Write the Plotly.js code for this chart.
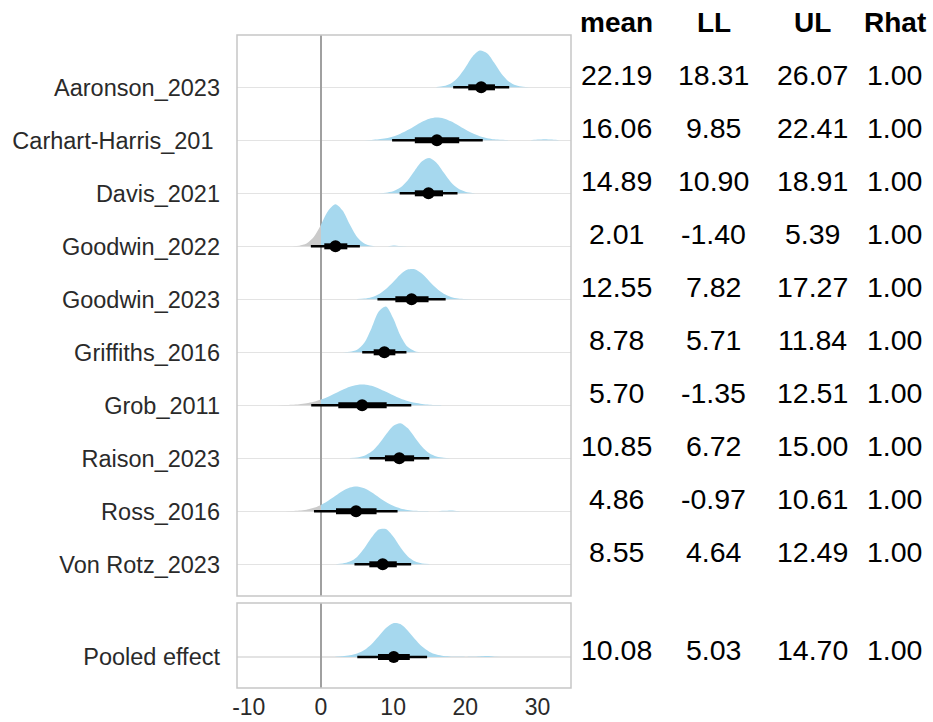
<!DOCTYPE html>
<html>
<head>
<meta charset="utf-8">
<script src="https://cdn.plot.ly/plotly-3.0.1.min.js"></script>
<style>
  html, body { margin: 0; padding: 0; background: #ffffff; }
  #chart { width: 933px; height: 722px; }
</style>
</head>
<body>
<div id="chart"></div>
<script>
// Study labels, top to bottom
const studies = [
  'Aaronson_2023', 'Carhart-Harris_201\u00a0', 'Davis_2021', 'Goodwin_2022', 'Goodwin_2023',
  'Griffiths_2016', 'Grob_2011', 'Raison_2023', 'Ross_2016', 'Von Rotz_2023'
];
// Posterior summaries per study
const meanVals = [22.19, 16.06, 14.89, 2.01, 12.55, 8.78, 5.70, 10.85, 4.86, 8.55];
const llVals   = [18.31, 9.85, 10.90, -1.40, 7.82, 5.71, -1.35, 6.72, -0.97, 4.64];
const ulVals   = [26.07, 22.41, 18.91, 5.39, 17.27, 11.84, 12.51, 15.00, 10.61, 12.49];
const rhatVals = [1.00, 1.00, 1.00, 1.00, 1.00, 1.00, 1.00, 1.00, 1.00, 1.00];
// 66% interval (thick bar)
const inner66Lo = [20.4, 13.0, 13.0, 0.46, 10.3, 7.3, 2.4, 8.86, 2.08, 6.7];
const inner66Hi = [24.1, 19.15, 16.9, 3.65, 14.9, 10.3, 9.1, 12.9, 7.7, 10.5];

// Posterior densities, sampled at unit steps from densStart
const densStart = [16, 6, 8, -4, 5, 3, -6, 4, -5, 2];
const densVals = [
  [0.0015, 0.0065, 0.021, 0.055, 0.109, 0.169, 0.201, 0.186, 0.134, 0.074, 0.032, 0.011, 0.003, 0.0005],
  [0.0009, 0.0023, 0.0052, 0.0109, 0.0209, 0.0359, 0.0558, 0.0789, 0.1018, 0.1184, 0.125, 0.1198, 0.1038,
   0.0819, 0.0586, 0.0381, 0.0221, 0.0119, 0.0058, 0.0025, 0.001, 0.0005, 0.0003, 0.0006, 0.004, 0.006,
   0.004, 0.0005, 0],
  [0.0006, 0.003, 0.0108, 0.0313, 0.0704, 0.1253, 0.1752, 0.1928, 0.1668, 0.1135, 0.0606, 0.0257, 0.0085,
   0.0021, 0.0004],
  [0.0006, 0.0034, 0.0156, 0.0506, 0.1173, 0.1943, 0.23, 0.1955, 0.1187, 0.0515, 0.0159, 0.0036, 0.0006,
   0.0002, 0.005, 0.001, 0],
  [0.0013, 0.0041, 0.0119, 0.028, 0.0566, 0.0952, 0.1361, 0.1627, 0.164, 0.1394, 0.0994, 0.0601, 0.0302,
   0.013, 0.0047, 0.0014, 0.0004],
  [0.0003, 0.0024, 0.0135, 0.0519, 0.132, 0.2231, 0.2505, 0.1867, 0.0923, 0.0301, 0.0064, 0.0009, 0.0001],
  [0.0005, 0.0012, 0.0027, 0.0055, 0.0106, 0.0191, 0.0312, 0.0471, 0.0657, 0.0854, 0.1016, 0.1117, 0.1136,
   0.1065, 0.0923, 0.074, 0.0548, 0.037, 0.0233, 0.0136, 0.0074, 0.0036, 0.0017, 0.0007, 0.0003],
  [0.001, 0.0041, 0.0136, 0.0367, 0.0772, 0.1304, 0.1772, 0.1916, 0.1651, 0.1142, 0.0632, 0.0276, 0.0098,
   0.0028, 0.0006],
  [0.0005, 0.0015, 0.004, 0.009, 0.0188, 0.0348, 0.0577, 0.085, 0.1115, 0.1303, 0.1359, 0.1261, 0.1042,
   0.0775, 0.051, 0.0299, 0.0156, 0.0072, 0.003, 0.0011, 0.0004, 0.0003, 0.003, 0.005, 0.002, 0],
  [0.0009, 0.0042, 0.0147, 0.0406, 0.0873, 0.1461, 0.1905, 0.1929, 0.1517, 0.0929, 0.0444, 0.0164, 0.0049,
   0.0011]
];

// Pooled effect
const pooledLabel = 'Pooled effect';
const pooledMean = 10.08;
const pooledLL = 5.03;
const pooledUL = 14.70;
const pooledRhat = 1.00;
const pooled66Lo = 7.9;
const pooled66Hi = 12.3;
const pooledDensStart = 2;
const pooledDens = [0.002, 0.004, 0.009, 0.019, 0.038, 0.07, 0.113, 0.158, 0.185, 0.18, 0.145, 0.098, 0.057,
  0.029, 0.013, 0.005, 0.002, 0.0008, 0.0005, 0.0008, 0.003, 0.005, 0.001, 0];

const tableHeaders = ['mean', 'LL', 'UL', 'Rhat'];
const xTicks = [-10, 0, 10, 20, 30];

// ---- drawing ----
const DENS_SCALE = 3.45;          // rows per unit of density
const BLUE = '#a6d8ee';
const GREY = '#cbcbcb';
const nRows = studies.length;
const rowOf = i => nRows - i;     // first study on top

const fillTraces = [];
const markTraces = [];

function addDensity(yax, row, xs, ds, color) {
  if (xs.length < 2) return;
  fillTraces.push({
    x: [xs[0], xs[xs.length - 1]], y: [row, row], xaxis: 'x', yaxis: yax,
    mode: 'lines', line: { width: 0, color: 'rgba(0,0,0,0)' },
    hoverinfo: 'skip', showlegend: false
  });
  fillTraces.push({
    x: xs, y: ds.map(d => row + d * DENS_SCALE), xaxis: 'x', yaxis: yax,
    mode: 'lines', line: { width: 0, shape: 'spline', smoothing: 0.8, color: color },
    fill: 'tonexty', fillcolor: color, hoverinfo: 'skip', showlegend: false
  });
}

function addRow(yax, row, start, vals, mean, ll, ul, lo, hi) {
  const xs = vals.map((_, k) => start + k);
  const negX = [], negD = [], posX = [], posD = [];
  xs.forEach((x, k) => {
    if (x <= 0) { negX.push(x); negD.push(vals[k]); }
    if (x >= 0) { posX.push(x); posD.push(vals[k]); }
  });
  addDensity(yax, row, negX, negD, GREY);
  addDensity(yax, row, posX, posD, BLUE);

  markTraces.push({
    x: [ll, ul], y: [row, row], xaxis: 'x', yaxis: yax, mode: 'lines',
    line: { color: '#000', width: 2.6 }, hoverinfo: 'skip', showlegend: false
  });
  markTraces.push({
    x: [lo, hi], y: [row, row], xaxis: 'x', yaxis: yax, mode: 'lines',
    line: { color: '#000', width: 6 }, hoverinfo: 'skip', showlegend: false
  });
  markTraces.push({
    x: [mean], y: [row], xaxis: 'x', yaxis: yax, mode: 'markers',
    marker: { color: '#000', size: 12 }, hoverinfo: 'skip', showlegend: false
  });
}

studies.forEach((s, i) => {
  addRow('y', rowOf(i), densStart[i], densVals[i], meanVals[i], llVals[i], ulVals[i], inner66Lo[i], inner66Hi[i]);
});
addRow('y2', 0, pooledDensStart, pooledDens, pooledMean, pooledLL, pooledUL, pooled66Lo, pooled66Hi);

// ---- table of summaries on the right ----
const colX = [1.1377, 1.428, 1.7216, 1.970];
const annotations = [];
tableHeaders.forEach((h, c) => {
  annotations.push({
    xref: 'paper', yref: 'paper', x: colX[c], y: 1.0184, xanchor: 'center', yanchor: 'middle',
    text: '<b>' + h + '</b>', showarrow: false, font: { size: 28, color: '#000' }
  });
});
studies.forEach((s, i) => {
  const vals = [meanVals[i], llVals[i], ulVals[i], rhatVals[i]];
  vals.forEach((v, c) => {
    annotations.push({
      xref: 'paper', yref: 'y', x: colX[c], y: rowOf(i), yshift: 12, xanchor: 'center', yanchor: 'middle',
      text: v.toFixed(2), showarrow: false, font: { size: 28.5, color: '#000' }
    });
  });
});
[pooledMean, pooledLL, pooledUL, pooledRhat].forEach((v, c) => {
  annotations.push({
    xref: 'paper', yref: 'y2', x: colX[c], y: 0, yshift: 7, xanchor: 'center', yanchor: 'middle',
    text: v.toFixed(2), showarrow: false, font: { size: 28.5, color: '#000' }
  });
});

const mainDomain = [0.1409, 1];
const pooledDomain = [0, 0.1302];
const panelLine = { color: '#c6c6c6', width: 1.5 };

const yCommon = {
  showgrid: true, gridcolor: '#e3e3e3', gridwidth: 1.5, zeroline: false, showline: false,
  ticks: '', tickfont: { size: 23.5, color: '#2a2a2a' }, ticklabelstandoff: 16, fixedrange: true
};

const layout = {
  width: 933, height: 722,
  margin: { l: 237, r: 362, t: 35, b: 34, pad: 0 },
  paper_bgcolor: '#ffffff', plot_bgcolor: '#ffffff',
  showlegend: false,
  font: { family: '"Liberation Sans", Arial, sans-serif', color: '#333' },
  xaxis: {
    anchor: 'y2', range: [-11.63, 34.63], tickvals: xTicks, ticktext: xTicks.map(String),
    showgrid: false, zeroline: true, zerolinecolor: '#a0a0a0', zerolinewidth: 1.3,
    showline: false, ticks: '', tickfont: { size: 23, color: '#2a2a2a' }, ticklabelstandoff: 3,
    fixedrange: true
  },
  yaxis: Object.assign({}, yCommon, {
    domain: mainDomain, range: [0.402, 10.987],
    tickvals: studies.map((_, i) => rowOf(i)), ticktext: studies
  }),
  yaxis2: Object.assign({}, yCommon, {
    domain: pooledDomain, range: [-0.585, 1.019],
    tickvals: [0], ticktext: [pooledLabel]
  }),
  shapes: [
    { type: 'rect', xref: 'paper', yref: 'paper', x0: 0, x1: 1, y0: mainDomain[0], y1: mainDomain[1], line: panelLine, layer: 'above' },
    { type: 'rect', xref: 'paper', yref: 'paper', x0: 0, x1: 1, y0: pooledDomain[0], y1: pooledDomain[1], line: panelLine, layer: 'above' }
  ],
  annotations: annotations
};

Plotly.newPlot('chart', fillTraces.concat(markTraces), layout, { displayModeBar: false, staticPlot: true });
</script>
</body>
</html>
